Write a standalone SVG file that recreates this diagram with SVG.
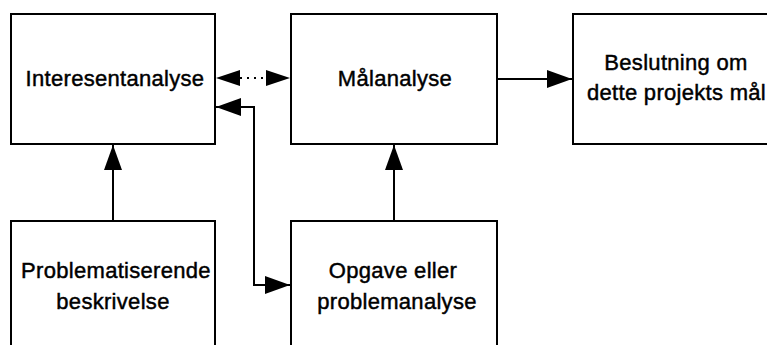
<svg xmlns="http://www.w3.org/2000/svg" width="767" height="345" viewBox="0 0 767 345">
  <style>
    .box { fill: #fff; stroke: #000; stroke-width: 2; }
    .lbl { font-family: "Liberation Sans", Arial, Helvetica, sans-serif; font-size: 22px; fill: #000; stroke: #000; stroke-width: 0.45; text-anchor: middle; letter-spacing: 0.3px; }
    .edge { fill: none; stroke: #000; stroke-width: 2; }
  </style>
  <defs>
    <marker id="arrow" markerUnits="userSpaceOnUse" markerWidth="26" markerHeight="18" refX="25" refY="9" orient="auto-start-reverse">
      <path d="M0,0 L25,9 L0,18 Z" fill="#000"/>
    </marker>
  </defs>
  <rect width="767" height="345" fill="#fff"/>

  <g id="interesentanalyse">
    <rect class="box" x="11" y="14" width="204" height="130"/>
    <text class="lbl" x="115" y="86">Interesentanalyse</text>
  </g>

  <g id="maalanalyse">
    <rect class="box" x="291" y="14" width="206" height="130"/>
    <text class="lbl" x="395" y="86">Målanalyse</text>
  </g>

  <g id="beslutning">
    <rect class="box" x="573" y="14" width="240" height="130"/>
    <text class="lbl" x="676" y="70">Beslutning om</text>
    <text class="lbl" x="587" y="100" style="text-anchor:start">dette projekts mål</text>
  </g>

  <g id="problematiserende">
    <rect class="box" x="11" y="221" width="204" height="160"/>
    <text class="lbl" x="116" y="278">Problematiserende</text>
    <text class="lbl" x="113" y="309">beskrivelse</text>
  </g>

  <g id="opgave">
    <rect class="box" x="291" y="221" width="206" height="160"/>
    <text class="lbl" x="393" y="278">Opgave eller</text>
    <text class="lbl" x="397" y="309">problemanalyse</text>
  </g>

  <g id="connectors">
    <!-- two-way dotted link between the upper analyses -->
    <path class="edge" d="M240,78 L266,78" stroke-dasharray="2 5"/>
    <path d="M216,78 L240,70 L240,86 Z" fill="#000"/>
    <path d="M290,78 L266,70 L266,86 Z" fill="#000"/>
    <!-- goal analysis to decision -->
    <path class="edge" d="M497,79 L572,79" marker-end="url(#arrow)"/>
    <!-- bottom boxes feeding upward -->
    <path class="edge" d="M113,221 L113,145" marker-end="url(#arrow)"/>
    <path class="edge" d="M394,221 L394,145" marker-end="url(#arrow)"/>
    <!-- two-way elbow link -->
    <path class="edge" d="M216,107 L254,107 L254,285 L290,285" marker-start="url(#arrow)" marker-end="url(#arrow)"/>
  </g>
</svg>
